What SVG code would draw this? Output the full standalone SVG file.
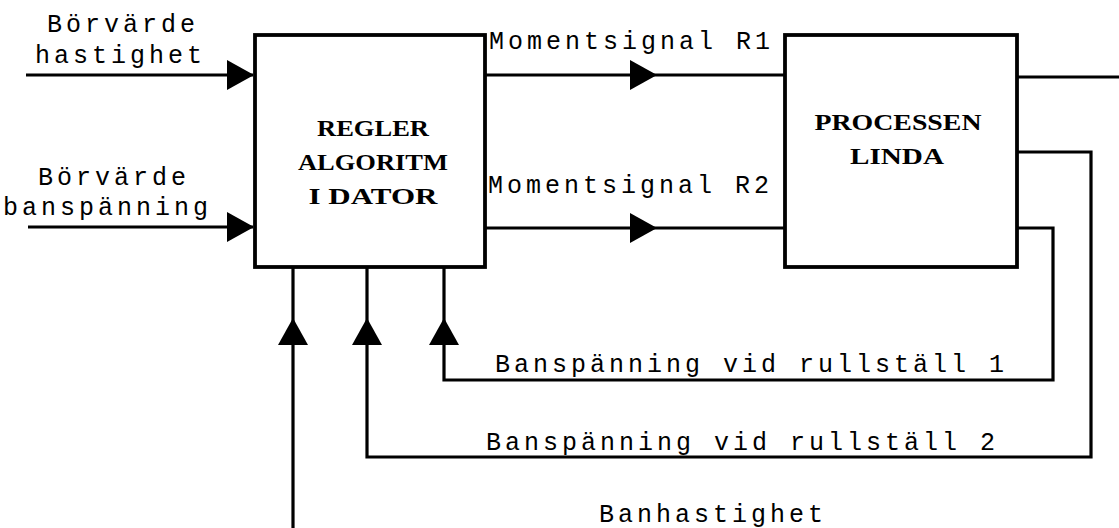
<svg xmlns="http://www.w3.org/2000/svg" xmlns:xlink="http://www.w3.org/1999/xlink" width="1119" height="528" viewBox="0 0 1119 528">
<style>
.box{fill:#fff;stroke:#000;stroke-width:3.8}
.ln{fill:none;stroke:#000;stroke-width:3.2;stroke-linejoin:miter}
.lbl{font-family:"Liberation Mono",monospace;font-size:25px;letter-spacing:4px;fill:#000}
.bt{font-family:"Liberation Serif",serif;font-weight:bold;font-size:23px;fill:#000;text-anchor:middle}
</style>
<defs>
<path id="ah" d="M-27,-15 L0,0 L-27,15 Z" fill="#000"/>
</defs>
<rect width="1119" height="528" fill="#fff"/>
<g id="connectors">
<path class="ln" d="M26,75 H253"/>
<path class="ln" d="M28,227 H253"/>
<path class="ln" d="M485,75 H785"/>
<path class="ln" d="M485,228 H785"/>
<path class="ln" d="M1017,77 H1119"/>
<path class="ln" d="M1017,228 H1053 V380 H444 V267"/>
<path class="ln" d="M1017,152 H1091 V457 H367 V267"/>
<path class="ln" d="M293,528 V267"/>
<use xlink:href="#ah" transform="translate(254,75)"/>
<use xlink:href="#ah" transform="translate(254,227)"/>
<use xlink:href="#ah" transform="translate(657,75)"/>
<use xlink:href="#ah" transform="translate(657,228)"/>
<use xlink:href="#ah" transform="translate(293,318) rotate(-90)"/>
<use xlink:href="#ah" transform="translate(367,318) rotate(-90)"/>
<use xlink:href="#ah" transform="translate(444,318) rotate(-90)"/>
<text class="lbl" x="47" y="32">Börvärde</text>
<text class="lbl" x="35" y="63">hastighet</text>
<text class="lbl" x="38" y="185">Börvärde</text>
<text class="lbl" x="3" y="215">banspänning</text>
<text class="lbl" x="489" y="49">Momentsignal R1</text>
<text class="lbl" x="488" y="193">Momentsignal R2</text>
<text class="lbl" x="495" y="372">Banspänning vid rullställ 1</text>
<text class="lbl" x="486" y="450">Banspänning vid rullställ 2</text>
<text class="lbl" x="599" y="522">Banhastighet</text>
</g>
<g id="regler">
<rect class="box" x="255" y="35" width="230" height="232"/>
<text class="bt" x="373" y="136" textLength="112" lengthAdjust="spacingAndGlyphs">REGLER</text>
<text class="bt" x="373" y="170" textLength="150" lengthAdjust="spacingAndGlyphs">ALGORITM</text>
<text class="bt" x="373" y="204" textLength="129" lengthAdjust="spacingAndGlyphs">I DATOR</text>
</g>
<g id="processen">
<rect class="box" x="785" y="35" width="232" height="232"/>
<text class="bt" x="898" y="130" textLength="167" lengthAdjust="spacingAndGlyphs">PROCESSEN</text>
<text class="bt" x="897" y="164" textLength="94" lengthAdjust="spacingAndGlyphs">LINDA</text>
</g>
</svg>
